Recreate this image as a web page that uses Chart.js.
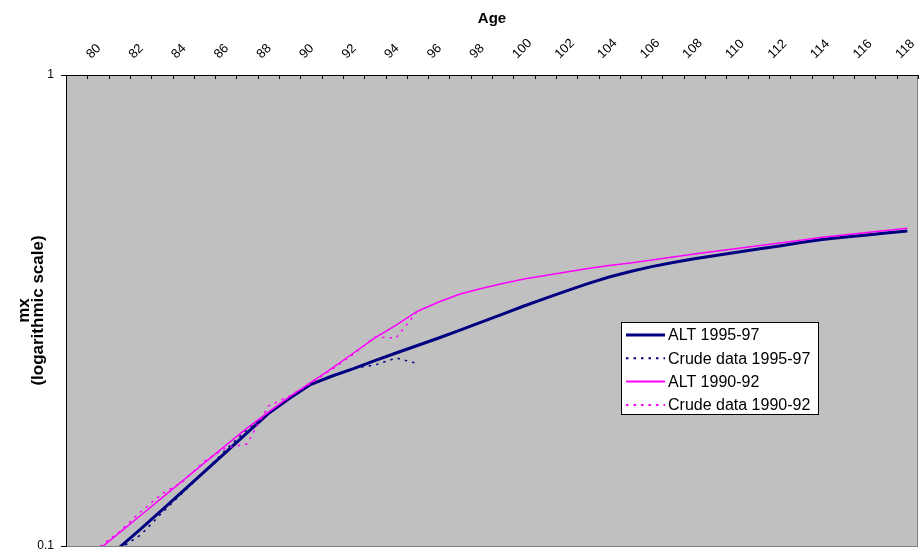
<!DOCTYPE html>
<html>
<head>
<meta charset="utf-8">
<script src="https://cdn.jsdelivr.net/npm/chart.js@4/dist/chart.umd.min.js"></script>
<style>
  html, body { margin: 0; padding: 0; background: #ffffff; }
  #wrap { position: relative; width: 921px; height: 554px; }
</style>
</head>
<body>
<div id="wrap"><canvas id="c" width="921" height="554"></canvas></div>
<script>
// Ages (categories) and axis tick labels
const ages = [80, 81, 82, 83, 84, 85, 86, 87, 88, 89, 90, 91, 92, 93, 94, 95, 96, 97, 98, 99,
              100, 101, 102, 103, 104, 105, 106, 107, 108, 109, 110, 111, 112, 113, 114, 115, 116, 117, 118, 119];
const xTickLabels = ['80', '82', '84', '86', '88', '90', '92', '94', '96', '98', '100', '102', '104',
                     '106', '108', '110', '112', '114', '116', '118'];
const yTickValues = [0.1, 1];

// Mortality rates mx by age
const alt9597 = [0.0822, 0.0903, 0.0992, 0.1086, 0.1192, 0.1310, 0.1439, 0.1580, 0.1738, 0.1910,
                 0.2060, 0.2205, 0.2296, 0.2381, 0.2476, 0.2569, 0.2665, 0.2765, 0.2872, 0.2989,
                 0.3108, 0.3233, 0.3354, 0.3481, 0.3607, 0.3725, 0.3826, 0.3919, 0.4000, 0.4071,
                 0.4137, 0.4204, 0.4270, 0.4334, 0.4409, 0.4474, 0.4524, 0.4571, 0.4618, 0.4664];
const crude9597 = [0.0800, 0.0880, 0.0985, 0.1055, 0.1175, 0.1300, 0.1437, 0.1600, 0.1768, 0.1920,
                   0.2070, 0.2200, 0.2300, 0.2386, 0.2422, 0.2507, 0.2440];
const alt9092 = [0.0899, 0.0979, 0.1066, 0.1161, 0.1265, 0.1378, 0.1501, 0.1635, 0.1780, 0.1925,
                 0.2075, 0.2225, 0.2387, 0.2569, 0.2765, 0.2945, 0.3151, 0.3296, 0.3428, 0.3522,
                 0.3609, 0.3689, 0.3752, 0.3817, 0.3883, 0.3940, 0.3990, 0.4047, 0.4107, 0.4169,
                 0.4224, 0.4282, 0.4339, 0.4397, 0.4457, 0.4524, 0.4574, 0.4625, 0.4675, 0.4725];
const crude9092 = [0.0910, 0.0990, 0.1072, 0.1181, 0.1290, 0.1372, 0.1515, 0.1615, 0.1647, 0.1983,
                   0.2082, 0.2215, 0.2375, 0.2556, 0.2778, 0.2765, 0.3153];

const seriesNames = ['ALT 1995-97', 'Crude data 1995-97', 'ALT 1990-92', 'Crude data 1990-92'];

const FONT = "'Liberation Sans', Arial, Helvetica, sans-serif";
const NAVY = '#000080';
const MAGENTA = '#FF00FF';

// Grey plot area with a thin frame
const plotBackground = {
  id: 'plotBackground',
  beforeDraw(chart) {
    const { ctx, chartArea: a } = chart;
    ctx.save();
    ctx.fillStyle = '#C0C0C0';
    ctx.fillRect(a.left, a.top, a.right - a.left, a.bottom - a.top);
    ctx.strokeStyle = '#808080';
    ctx.lineWidth = 1;
    ctx.strokeRect(a.left + 0.5, a.top + 0.5, a.right - a.left - 1, a.bottom - a.top);
    ctx.restore();
  }
};

// Short tick marks on the category boundaries, pointing into the plot
const innerTicks = {
  id: 'innerTicks',
  beforeDatasetsDraw(chart) {
    const { ctx } = chart;
    const xs = chart.scales.x;
    ctx.save();
    ctx.strokeStyle = '#000';
    ctx.lineWidth = 1;
    ctx.beginPath();
    for (let i = 0; i <= ages.length; i++) {
      const px = Math.round(xs.getPixelForValue(i - 0.5)) + 0.5;
      ctx.moveTo(px, xs.bottom);
      ctx.lineTo(px, xs.bottom + 4);
    }
    ctx.stroke();
    ctx.restore();
  }
};

// Boxed legend inside the plot area
const boxLegend = {
  id: 'boxLegend',
  afterDraw(chart) {
    const { ctx } = chart;
    const box = { x: 621.5, y: 322.5, w: 197, h: 92 };
    ctx.save();
    ctx.fillStyle = '#ffffff';
    ctx.fillRect(box.x, box.y, box.w, box.h);
    ctx.strokeStyle = '#000';
    ctx.lineWidth = 1;
    ctx.strokeRect(box.x, box.y, box.w, box.h);
    chart.data.datasets.forEach((ds, i) => {
      const y = 335 + i * 23.3;
      ctx.beginPath();
      ctx.strokeStyle = ds.borderColor;
      ctx.lineWidth = ds.legendWidth;
      ctx.setLineDash(ds.borderDash || []);
      ctx.moveTo(626, y);
      ctx.lineTo(665, y);
      ctx.stroke();
      ctx.setLineDash([]);
      ctx.fillStyle = '#000';
      ctx.font = '16px ' + FONT;
      ctx.textAlign = 'left';
      ctx.textBaseline = 'middle';
      ctx.fillText(ds.label, 668, y + 1);
    });
    ctx.restore();
  }
};

new Chart(document.getElementById('c'), {
  type: 'line',
  data: {
    labels: ages.map(String),
    datasets: [
      { label: seriesNames[0], data: alt9597, borderColor: NAVY, borderWidth: 3, legendWidth: 3, order: 3 },
      { label: seriesNames[1], data: crude9597, borderColor: NAVY, borderWidth: 1.5, legendWidth: 2,
        borderDash: [2.5, 5], order: 2 },
      { label: seriesNames[2], data: alt9092, borderColor: MAGENTA, borderWidth: 1.5, legendWidth: 2, order: 1 },
      { label: seriesNames[3], data: crude9092, borderColor: MAGENTA, borderWidth: 1.5, legendWidth: 2,
        borderDash: [2.5, 5], order: 0 }
    ]
  },
  options: {
    responsive: false,
    animation: false,
    devicePixelRatio: 1,
    layout: { padding: { left: 0, top: 0, right: 3, bottom: 8 } },
    elements: {
      point: { radius: 0, hoverRadius: 0 },
      line: { tension: 0, fill: false, borderCapStyle: 'butt' }
    },
    plugins: {
      legend: { display: false },
      tooltip: { enabled: false }
    },
    scales: {
      x: {
        type: 'category',
        position: 'top',
        offset: true,
        grid: { display: true, offset: true, drawOnChartArea: false, drawTicks: false },
        border: { display: true, color: '#000', width: 1 },
        ticks: {
          autoSkip: false,
          minRotation: 45,
          maxRotation: 45,
          padding: 13,
          labelOffset: 23,
          color: '#000',
          font: { family: FONT, size: 13 },
          callback(value, index) {
            const lab = String(ages[index]);
            return xTickLabels.includes(lab) ? lab : '';
          }
        },
        title: {
          display: true,
          text: 'Age',
          color: '#000',
          font: { family: FONT, size: 15, weight: 'bold' },
          padding: { top: 10, bottom: 0 }
        },
        afterFit(scale) {
          scale.height = 75;
          scale.paddingLeft = 0;
          scale.paddingRight = 0;
        }
      },
      y: {
        type: 'logarithmic',
        position: 'left',
        min: 0.1,
        max: 1,
        afterBuildTicks(scale) { scale.ticks = yTickValues.map(v => ({ value: v })); },
        grid: { drawOnChartArea: false, drawTicks: true, tickLength: 5, color: '#000' },
        border: { display: true, color: '#000', width: 1 },
        ticks: {
          padding: 7,
          color: '#000',
          font: { family: FONT, size: 12 },
          callback(value) { return String(value); }
        },
        title: {
          display: true,
          text: ['mx', '(logarithmic scale)'],
          color: '#000',
          font: { family: FONT, size: 17, weight: 'bold', lineHeight: 0.82 },
          padding: { top: 17, bottom: 0 }
        },
        afterFit(scale) {
          scale.width = 66;
          scale.paddingTop = 0;
          scale.paddingBottom = 0;
        }
      }
    }
  },
  plugins: [plotBackground, innerTicks, boxLegend]
});
</script>
</body>
</html>
